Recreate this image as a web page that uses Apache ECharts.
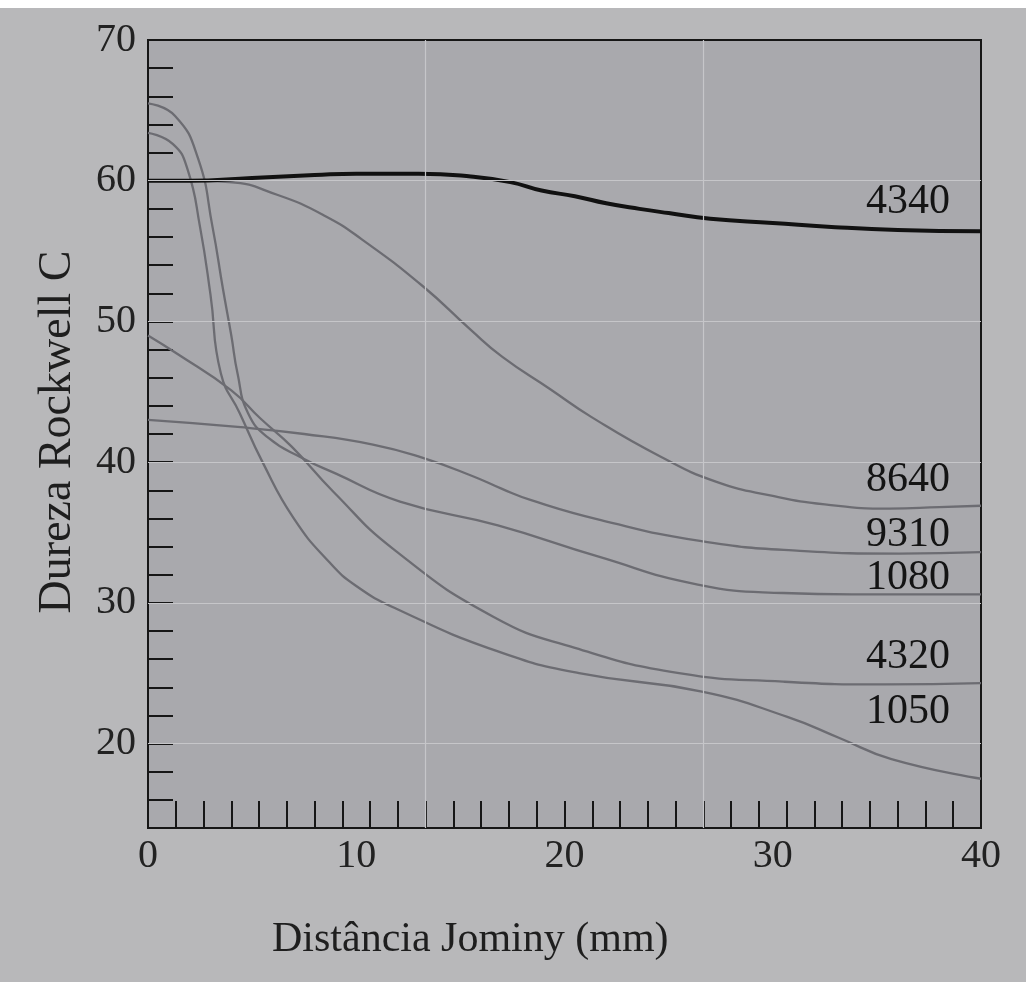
<!DOCTYPE html>
<html>
<head>
<meta charset="utf-8">
<script src="https://cdn.jsdelivr.net/npm/echarts@6/dist/echarts.min.js"></script>
<style>
html,body{margin:0;padding:0;background:#b8b8ba;}
#c{width:1026px;height:982px;}
</style>
</head>
<body>
<div id="c"></div>
<script>
// ---- data (Jominy distance in mm, hardness in HRC) ----
const steels = ['4340', '8640', '9310', '1080', '4320', '1050'];

const dist4340 = [0, 2, 5, 8, 10, 13, 15.5, 17.4, 18.9, 20.5, 22, 23.6, 25, 27, 30, 33, 36, 40];
const hrc4340  = [60.0, 60.0, 60.2, 60.4, 60.5, 60.5, 60.3, 59.9, 59.3, 58.9, 58.4, 58.0, 57.7, 57.3, 57.0, 56.7, 56.5, 56.4];

const dist8640 = [0, 2, 3.9, 6.2, 8.5, 10.3, 13.2, 15.5, 17.0, 19.3, 21.3, 24.6, 27.3, 30, 32.5, 35.6, 38, 40];
const hrc8640  = [60.0, 60.0, 59.9, 59.0, 57.5, 55.8, 52.5, 49.4, 47.5, 45.2, 43.2, 40.4, 38.6, 37.6, 37.0, 36.7, 36.8, 36.9];

const dist9310 = [0, 4.3, 7.5, 10.8, 13.2, 15.6, 17.0, 18.4, 21.7, 26.5, 31.3, 36.1, 40];
const hrc9310  = [43.0, 42.5, 42.0, 41.25, 40.3, 39.0, 38.1, 37.3, 35.9, 34.4, 33.7, 33.5, 33.6];

const dist1080 = [0, 1.3, 2.4, 3.1, 3.6, 4.0, 4.3, 4.8, 5.8, 7.4, 9.0, 12.1, 16.8, 21.6, 26.4, 30.5, 33.8, 40];
const hrc1080  = [65.5, 64.6, 61.6, 56.7, 52.3, 49.0, 46.3, 43.5, 41.7, 40.3, 39.2, 37.2, 35.5, 33.3, 31.3, 30.7, 30.6, 30.6];

const dist4320 = [0, 1.4, 4.0, 5.4, 6.9, 8.9, 11.8, 16.6, 20.5, 25.5, 30.5, 35.4, 40];
const hrc4320  = [49.0, 47.7, 45.1, 43.1, 41.1, 37.9, 33.8, 29.0, 26.8, 25.0, 24.4, 24.2, 24.3];

const dist1050 = [0, 1.2, 1.9, 2.5, 3.0, 3.5, 4.4, 5.5, 7.0, 8.7, 10.0, 11.9, 16.7, 20.7, 26.6, 30.7, 33.2, 35.7, 40];
const hrc1050  = [63.4, 62.6, 60.8, 56.7, 51.9, 46.3, 43.5, 40.0, 36.0, 32.9, 31.2, 29.6, 26.6, 25.0, 23.7, 21.9, 20.4, 18.9, 17.5];

// light grid lines printed in the figure
const gridHRC  = [20, 30, 40, 50, 60];
const gridDist = [13.33, 26.67];

// ---- build chart ----
const pairs = (xs, ys) => xs.map((x, i) => [x, ys[i]]);
const curves = {
  '4340': pairs(dist4340, hrc4340),
  '8640': pairs(dist8640, hrc8640),
  '9310': pairs(dist9310, hrc9310),
  '1080': pairs(dist1080, hrc1080),
  '4320': pairs(dist4320, hrc4320),
  '1050': pairs(dist1050, hrc1050)
};
const labelOffset = {
  '4340': [-39, -29], '8640': [-39, -26], '9310': [-39, -17],
  '1080': [-39, -16], '4320': [-39, -26], '1050': [-39, -67]
};

const serif = '"Liberation Serif", "DejaVu Serif", serif';
const ink = '#161616';

const series = [{
  type: 'line', data: [], silent: true, z: 1,
  markLine: {
    silent: true, symbol: 'none', animation: false,
    label: { show: false },
    lineStyle: { color: '#c6c6c9', width: 1.2, type: 'solid' },
    data: gridHRC.map(v => ({ yAxis: v })).concat(gridDist.map(v => ({ xAxis: v })))
  }
}];

steels.forEach(name => {
  const bold = name === '4340';
  series.push({
    type: 'line', name: name, data: curves[name],
    smooth: 0.5,
    showSymbol: false, symbol: 'none',
    z: bold ? 4 : 3,
    lineStyle: { color: bold ? '#111111' : '#6c6c72', width: bold ? 4 : 2.3 },
    endLabel: {
      show: true, formatter: '{a}', align: 'right', verticalAlign: 'middle',
      offset: labelOffset[name],
      fontSize: 42, fontFamily: serif, color: '#141414'
    }
  });
});

const chart = echarts.init(document.getElementById('c'), null, { renderer: 'canvas' });
chart.setOption({
  animation: false,
  backgroundColor: '#b8b8ba',
  grid: {
    left: 148, right: 45, top: 40, bottom: 154,
    show: true, backgroundColor: '#a9a9ad',
    borderColor: ink, borderWidth: 2
  },
  xAxis: [{
    type: 'value', min: 0, max: 40, interval: 10, position: 'bottom',
    axisLine: { show: true, lineStyle: { color: ink, width: 2 } },
    axisTick: { show: false },
    splitLine: { show: false },
    axisLabel: { fontSize: 40, fontFamily: serif, color: '#222', margin: 8 }
  }, {
    type: 'value', min: 0, max: 30, interval: 1, position: 'bottom',
    axisLine: { show: false },
    axisTick: { show: true, inside: true, length: 27, lineStyle: { color: ink, width: 2 } },
    axisLabel: { show: false },
    splitLine: { show: false }
  }],
  yAxis: {
    type: 'value', min: 14, max: 70, interval: 2,
    axisLine: { show: true, lineStyle: { color: ink, width: 2 } },
    axisTick: { show: true, inside: true, length: 25, lineStyle: { color: ink, width: 2 } },
    splitLine: { show: false },
    axisLabel: {
      formatter: v => (v % 10 === 0 ? String(v) : ''),
      fontSize: 40, fontFamily: serif, color: '#222', margin: 12
    }
  },
  graphic: [{
    type: 'rect', shape: { x: 0, y: 0, width: 1026, height: 8 },
    style: { fill: '#ffffff' }, silent: true
  }, {
    type: 'text', x: 272, y: 940,
    style: { text: 'Distância Jominy (mm)', font: '42px ' + serif, fill: '#1e1e1e',
             textAlign: 'left', textVerticalAlign: 'middle' }
  }, {
    type: 'text', x: 58, y: 432, rotation: Math.PI / 2,
    style: { text: 'Dureza Rockwell C', font: '46px ' + serif, fill: '#1e1e1e',
             textAlign: 'center', textVerticalAlign: 'middle' }
  }],
  series: series
});
</script>
</body>
</html>
